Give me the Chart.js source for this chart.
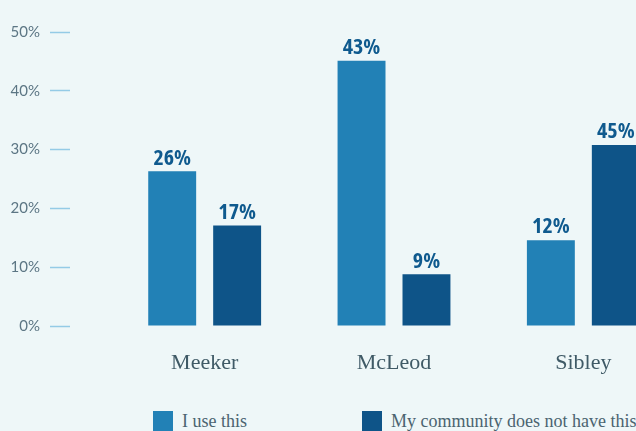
<!DOCTYPE html>
<html>
<head>
<meta charset="utf-8">
<script src="https://cdn.jsdelivr.net/npm/chart.js@4"></script>
<style>
  html, body { margin: 0; padding: 0; background: #eef7f8; overflow: hidden; }
  #wrap { position: relative; width: 700px; height: 431px; }
  #chart { position: absolute; left: 0; top: 0; }
  .legend-item { position: absolute; top: 411px; display: flex; align-items: flex-start; font-family: "Liberation Serif", serif; font-size: 18px; color: #4b6470; white-space: nowrap; }
  .legend-item span.box { display: inline-block; width: 20px; height: 20px; margin-right: 9px; }
</style>
</head>
<body>
<div id="wrap">
  <canvas id="chart" width="690" height="390"></canvas>
  <div id="legend"></div>
</div>
<script>
// data
const categories = ['Meeker', 'McLeod', 'Sibley'];
const seriesNames = ['I use this', 'My community does not have this'];
const useValues = [26.3, 45.1, 14.6];
const missingValues = [17.1, 8.8, 30.8];
// printed labels above the bars
const useLabels = ['26%', '43%', '12%'];
const missingLabels = ['17%', '9%', '45%'];
const yTicks = [0, 10, 20, 30, 40, 50];

const colors = ['#2281b6', '#0e5488'];
const valueLabels = [useLabels, missingLabels];

// labels above bars
const barLabels = {
    id: 'barLabels',
    afterDatasetsDraw(chart) {
        const ctx = chart.ctx;
        ctx.save();
        ctx.font = 'bold 22px "Open Sans", sans-serif';
        if ('fontStretch' in ctx) ctx.fontStretch = 'condensed';
        ctx.fillStyle = '#0f5a8e';
        ctx.textAlign = 'center';
        ctx.textBaseline = 'bottom';
        chart.data.datasets.forEach((ds, i) => {
            chart.getDatasetMeta(i).data.forEach((bar, j) => {
                ctx.fillText(valueLabels[i][j], bar.x, bar.y - 2);
            });
        });
        ctx.restore();
    }
};

const ctx = document.getElementById('chart').getContext('2d');
new Chart(ctx, {
    type: 'bar',
    data: {
        labels: categories,
        datasets: [
            { label: seriesNames[0], data: useValues, backgroundColor: colors[0] },
            { label: seriesNames[1], data: missingValues, backgroundColor: colors[1] }
        ]
    },
    options: {
        responsive: false,
        animation: false,
        layout: { padding: { top: 32, right: 12, left: 0, bottom: 0 } },
        datasets: { bar: { barPercentage: 0.738, categoryPercentage: 0.686 } },
        scales: {
            x: {
                grid: { display: false },
                border: { display: false },
                ticks: {
                    color: '#3f5a66',
                    padding: 16,
                    font: { family: '"Liberation Serif", serif', size: 22 }
                },
                afterFit: (scale) => { scale.height = 64; }
            },
            y: {
                min: 0,
                max: 50,
                afterBuildTicks: (scale) => { scale.ticks = yTicks.map(v => ({ value: v })); },
                grid: {
                    display: true,
                    drawOnChartArea: false,
                    drawTicks: true,
                    tickLength: 60,
                    tickColor: '#94cbe6',
                    tickWidth: 1.5,
                    tickBorderDash: [20, 300]
                },
                border: { display: false },
                ticks: {
                    color: '#5c7684',
                    padding: 10,
                    font: { family: 'Lato, sans-serif', size: 15 },
                    callback: (v) => v + '%'
                },
                afterFit: (scale) => { scale.width = 110; }
            }
        },
        plugins: {
            legend: { display: false },
            tooltip: { enabled: false }
        }
    },
    plugins: [barLabels]
});

// legend as html
const legendLeft = [153, 362];
const legendEl = document.getElementById('legend');
seriesNames.forEach((name, i) => {
    const item = document.createElement('div');
    item.className = 'legend-item';
    item.style.left = legendLeft[i] + 'px';
    const box = document.createElement('span');
    box.className = 'box';
    box.style.background = colors[i];
    item.appendChild(box);
    const txt = document.createElement('span');
    txt.textContent = name;
    item.appendChild(txt);
    legendEl.appendChild(item);
});
</script>
</body>
</html>
